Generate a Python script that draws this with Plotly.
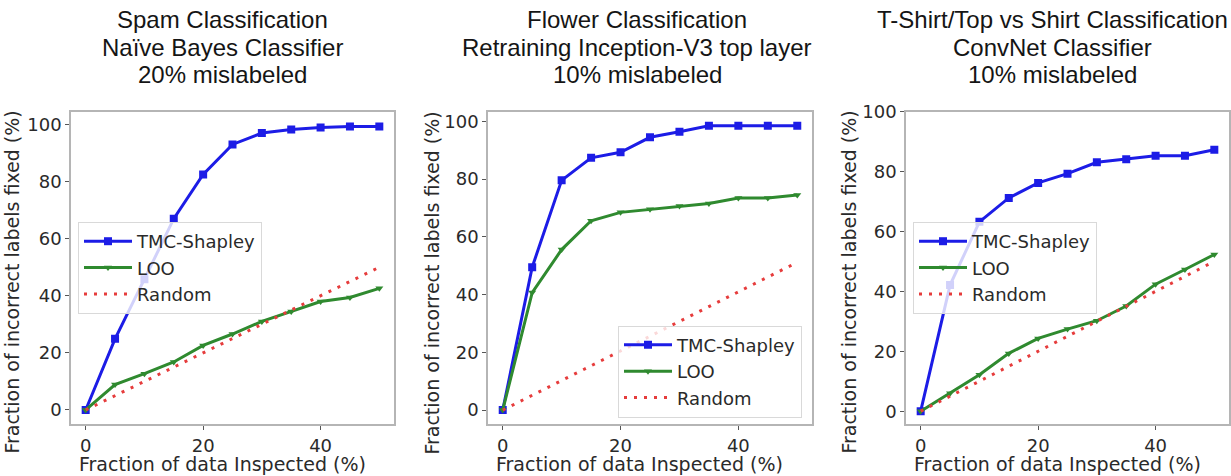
import plotly.graph_objects as go

W, H = 1231, 476

x_vals = [0, 5, 10, 15, 20, 25, 30, 35, 40, 45, 50]

# Panel 1: Spam classification
spam_tmc = [0, 24.9, 45.8, 67, 82.5, 93, 97, 98.2, 98.9, 99.3, 99.3]
spam_loo = [0, 8.9, 12.7, 16.8, 22.6, 26.6, 31, 34.5, 38, 39.4, 42.6]
spam_rnd = [0, 5, 10, 15, 20, 25, 30, 35, 40, 45, 50]

# Panel 2: Flower classification
flower_tmc = [0, 49.5, 79.6, 87.4, 89.3, 94.5, 96.4, 98.5, 98.5, 98.5, 98.5]
flower_loo = [0, 40.7, 55.6, 65.6, 68.5, 69.6, 70.7, 71.6, 73.5, 73.5, 74.5]
flower_rnd = [0, 5.1, 10.2, 15.3, 20.4, 25.5, 30.6, 35.7, 40.8, 45.9, 51.2]

# Panel 3: T-Shirt/Top vs Shirt classification
shirt_tmc = [0, 42.1, 63.2, 71.2, 76.2, 79.3, 83.1, 84.1, 85.3, 85.3, 87.3]
shirt_loo = [0, 6, 12.2, 19.3, 24.3, 27.4, 30.2, 35.1, 42.4, 47.3, 52.3]
shirt_rnd = [0, 5, 10, 15, 20, 25, 30, 35, 40, 45, 50]

titles = [
    ["Spam Classification", "Naïve Bayes Classifier", "20% mislabeled"],
    ["Flower Classification", "Retraining Inception-V3 top layer", "10% mislabeled"],
    ["T-Shirt/Top vs Shirt Classification", "ConvNet Classifier", "10% mislabeled"],
]
series_names = ["TMC-Shapley", "LOO", "Random"]
x_title = "Fraction of data Inspected (%)"
y_title = "Fraction of incorrect labels fixed (%)"
x_ticks = [0, 20, 40]
y_ticks = [0, 20, 40, 60, 80, 100]

panels = [
    (spam_tmc, spam_loo, spam_rnd),
    (flower_tmc, flower_loo, flower_rnd),
    (shirt_tmc, shirt_loo, shirt_rnd),
]

# layout geometry (pixels)
x_doms_px = [(71, 394), (488, 812), (906, 1229)]
y_dom_px = (103, 423)
y_ranges = [[-5, 104.5], [-4.9, 103.4], [-4.35, 100]]
legend_pos_px = [(78, 216), (618, 322), (913, 216)]
title_cx = [222, 637, 1052]
title_cy = [9, 37, 65]
xtitle_cx = [222, 639, 1057]
xtitle_cy = 464
ytitle_cx = [12, 432, 849]
ytitle_cy = 278

BLUE = "#1c1ce6"
GREEN = "#2f8a2f"
RED = "#e63c3c"
FRAME = "#b5b5b5"
TXT = "#2a2a2a"

fig = go.Figure()

for i, (tmc, loo, rnd) in enumerate(panels):
    sfx = "" if i == 0 else str(i + 1)
    leg = "legend" if i == 0 else "legend" + str(i + 1)
    fig.add_trace(go.Scatter(
        x=x_vals, y=tmc, name=series_names[0], mode="lines+markers",
        line=dict(color=BLUE, width=3), marker=dict(symbol="square", size=8, color=BLUE),
        xaxis="x" + sfx, yaxis="y" + sfx, legend=leg))
    fig.add_trace(go.Scatter(
        x=x_vals, y=loo, name=series_names[1], mode="lines+markers",
        line=dict(color=GREEN, width=3), marker=dict(symbol="triangle-down", size=7, color=GREEN),
        xaxis="x" + sfx, yaxis="y" + sfx, legend=leg))
    fig.add_trace(go.Scatter(
        x=x_vals, y=rnd, name=series_names[2], mode="lines",
        line=dict(color=RED, width=3, dash="3px,7px"),
        xaxis="x" + sfx, yaxis="y" + sfx, legend=leg))

layout = dict(
    width=W, height=H,
    margin=dict(l=0, r=0, t=0, b=0),
    paper_bgcolor="white", plot_bgcolor="white",
    showlegend=True,
    font=dict(family="DejaVu Sans", size=18, color=TXT),
)

axis_common = dict(
    showgrid=False, zeroline=False, showline=True, linecolor=FRAME, linewidth=1.5,
    mirror=True, ticks="outside", ticklen=4, tickwidth=1, tickcolor="#555555",
    tickfont=dict(family="DejaVu Sans", size=18, color=TXT),
)

for i in range(3):
    sfx = "" if i == 0 else str(i + 1)
    x0, x1 = x_doms_px[i]
    layout["xaxis" + sfx] = dict(
        axis_common, domain=[x0 / W, x1 / W], range=[-2.5, 52.5],
        tickvals=x_ticks, anchor="y" + sfx)
    layout["yaxis" + sfx] = dict(
        axis_common, domain=[1 - y_dom_px[1] / H, 1 - y_dom_px[0] / H],
        range=y_ranges[i], tickvals=y_ticks, anchor="x" + sfx)
    lx, ly = legend_pos_px[i]
    layout["legend" if i == 0 else "legend" + str(i + 1)] = dict(
        x=lx / W, y=1 - ly / H, xanchor="left", yanchor="top",
        bgcolor="rgba(255,255,255,0.8)", bordercolor="#d9d9d9", borderwidth=1,
        font=dict(family="DejaVu Sans", size=18, color=TXT),
        tracegroupgap=0, itemwidth=48)

annotations = []
for i in range(3):
    for j, line in enumerate(titles[i]):
        annotations.append(dict(
            text=line, x=title_cx[i] / W, y=1 - title_cy[j] / H, xref="paper", yref="paper",
            xanchor="center", yanchor="middle", showarrow=False,
            font=dict(family="Liberation Sans, Arial", size=24, color="#151515")))
    annotations.append(dict(
        text=x_title, x=xtitle_cx[i] / W, y=1 - xtitle_cy / H, xref="paper", yref="paper",
        xanchor="center", yanchor="middle", showarrow=False,
        font=dict(family="DejaVu Sans", size=19, color=TXT)))
    annotations.append(dict(
        text=y_title, x=ytitle_cx[i] / W, y=1 - ytitle_cy / H, xref="paper", yref="paper",
        xanchor="center", yanchor="middle", showarrow=False, textangle=-90,
        font=dict(family="DejaVu Sans", size=19, color=TXT)))
layout["annotations"] = annotations

fig.update_layout(**layout)
fig.write_html(
    "out.html",
    config={"displayModeBar": False},
    post_script="document.body.style.margin='0';document.body.style.overflow='hidden';",
)
